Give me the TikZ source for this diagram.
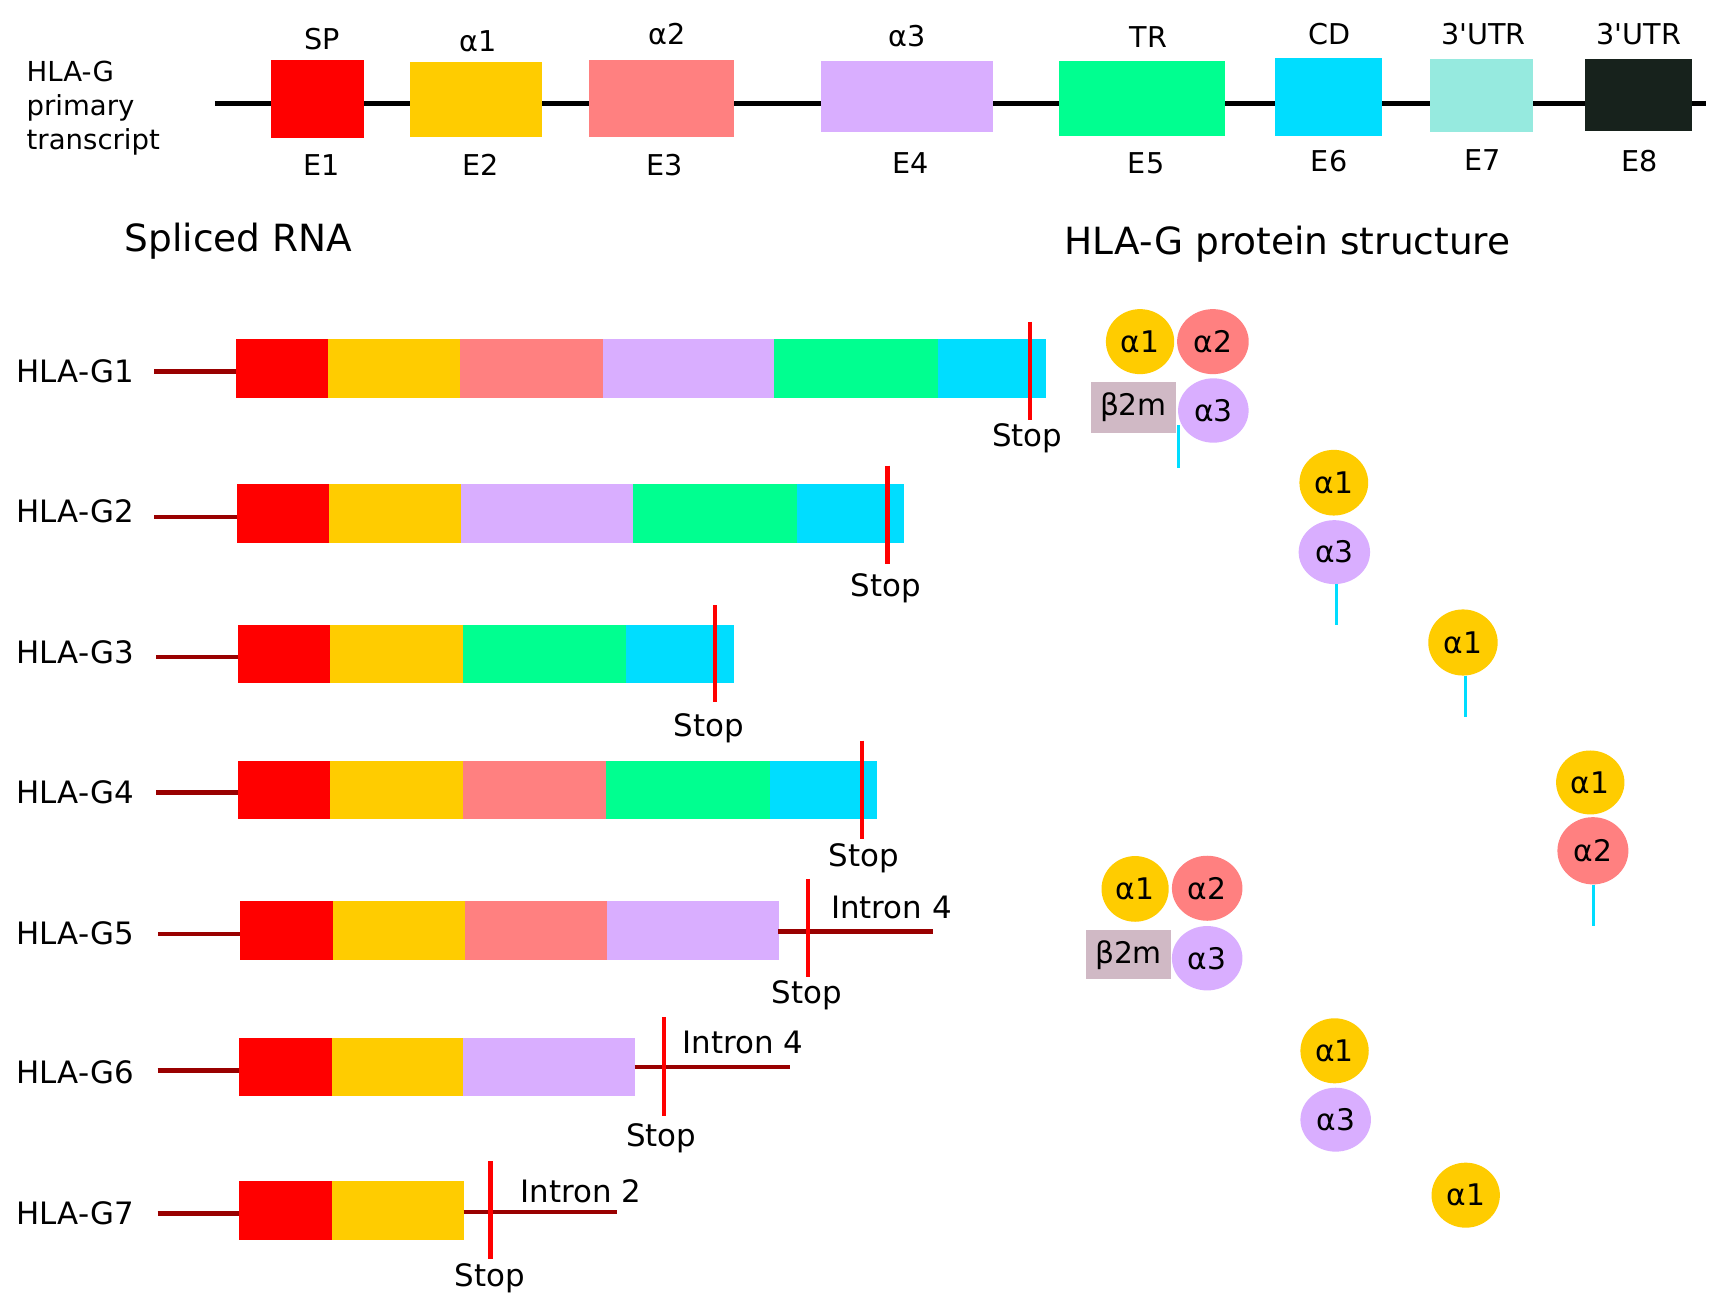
\documentclass[tikz,border=0pt]{standalone}
\usepackage{fontspec}
\setmainfont{DejaVu Sans}
\usetikzlibrary{shapes.geometric}
\definecolor{cRed}{HTML}{FF0000}
\definecolor{cYel}{HTML}{FFCC00}
\definecolor{cSal}{HTML}{FF8080}
\definecolor{cLav}{HTML}{D9AEFF}
\definecolor{cGrn}{HTML}{00FF90}
\definecolor{cCya}{HTML}{00DDFF}
\definecolor{cUtr}{HTML}{96EADF}
\definecolor{cDrk}{HTML}{17221C}
\definecolor{cLead}{HTML}{990000}
\definecolor{cBtm}{HTML}{D0B9C5}
\tikzset{
  segbox/.style={rectangle, inner sep=0pt, outer sep=0pt, line width=0.6pt},
  lbl/.style={inner sep=0pt, font=\fontsize{28}{34}\selectfont},
  toplbl/.style={inner sep=0pt, font=\fontsize{26}{31}\selectfont},
  hdr/.style={inner sep=0pt, font=\fontsize{34}{40}\selectfont},
  dom/.style={ellipse, inner sep=0pt, font=\fontsize{27}{32}\selectfont},
  btm/.style={rectangle, inner sep=0pt, fill=cBtm, font=\fontsize{27}{32}\selectfont},
  leader/.style={line width=4pt, draw=cLead},
  stopline/.style={line width=4pt, draw=cRed},
  stem/.style={line width=3pt, draw=cCya},
  backbone/.style={line width=4pt, draw=black},
}
% name, x1, x2, ytop, ybottom, colour
\newcommand\mkseg[6]{\node[segbox, fill=#6, draw=#6, minimum width={#3-#2}, minimum height={#5-#4}, anchor=north west] (#1) at (#2,#4) {};}
\begin{document}
\begin{tikzpicture}[x=1pt,y=-1pt]
\useasboundingbox[fill=white] (0,0) rectangle (1568,1180);

% ---------- primary transcript ----------
\node[toplbl, align=left, anchor=north west, font=\fontsize{25}{31}\selectfont] (prim) at (24,55) {HLA-G\\primary\\transcript};
\coordinate (bbl) at (195,93.8);
\coordinate (bbr) at (1548,93.8);
\draw[backbone] (bbl) -- (bbr);
\mkseg{e1}{246}{330}{55}{125}{cRed}
\mkseg{e2}{372}{491.5}{56.6}{124}{cYel}
\mkseg{e3}{535}{665.7}{54.5}{124}{cSal}
\mkseg{e4}{745}{900}{56}{119.5}{cLav}
\mkseg{e5}{961}{1110.5}{56}{122.5}{cGrn}
\mkseg{e6}{1157}{1253}{53}{123}{cCya}
\mkseg{e7}{1298}{1390}{53.5}{119.5}{cUtr}
\mkseg{e8}{1438.5}{1535}{53.5}{118}{cDrk}
\node[toplbl, anchor=base] (t1) at (292,45) {SP};
\node[toplbl, anchor=base] (t2) at (434,47) {α1};
\node[toplbl, anchor=base] (t3) at (605,40) {α2};
\node[toplbl, anchor=base] (t4) at (823,42) {α3};
\node[toplbl, anchor=base] (t5) at (1042,43) {TR};
\node[toplbl, anchor=base] (t6) at (1206,40) {CD};
\node[toplbl, anchor=base] (t7) at (1346,40) {3\textquotesingle UTR};
\node[toplbl, anchor=base] (t8) at (1487,40) {3\textquotesingle UTR};
\node[toplbl, anchor=base] (b1) at (292,159) {E1};
\node[toplbl, anchor=base] (b2) at (436,159) {E2};
\node[toplbl, anchor=base] (b3) at (603,159) {E3};
\node[toplbl, anchor=base] (b4) at (826,157) {E4};
\node[toplbl, anchor=base] (b5) at (1040,157) {E5};
\node[toplbl, anchor=base] (b6) at (1206,156) {E6};
\node[toplbl, anchor=base] (b7) at (1345,155) {E7};
\node[toplbl, anchor=base] (b8) at (1488,156) {E8};

% ---------- headers ----------
\node[hdr, anchor=base west] (hsp) at (113,228) {Spliced RNA};
\node[hdr, anchor=base west] (hpr) at (966,231) {HLA-G protein structure};

% ---------- HLA-G1 ----------
\node[lbl, anchor=base west] (n1) at (15,347.3) {HLA-G1};
\coordinate (l1) at (140,337);
\mkseg{g1a}{214}{298}{308}{360.6}{cRed}
\mkseg{g1b}{298}{417.6}{308}{360.6}{cYel}
\mkseg{g1c}{417.6}{547.5}{308}{360.6}{cSal}
\mkseg{g1d}{547.5}{702.8}{308}{360.6}{cLav}
\mkseg{g1e}{702.8}{851.8}{308}{360.6}{cGrn}
\mkseg{g1f}{851.8}{948.6}{308}{360.6}{cCya}
\draw[leader] (l1) -- (l1 -| g1a.west);
\coordinate (s1t) at (934.6,292); \coordinate (s1b) at (934.6,381);
\draw[stopline] (s1t) -- (s1b);
\node[lbl, anchor=base] (st1) at (932,405.3) {Stop};

% ---------- HLA-G2 ----------
\node[lbl, anchor=base west] (n2) at (15,474.5) {HLA-G2};
\coordinate (l2) at (140,469);
\mkseg{g2a}{215.2}{299.2}{439.2}{492}{cRed}
\mkseg{g2b}{299.2}{418.9}{439.2}{492}{cYel}
\mkseg{g2c}{418.9}{574.9}{439.2}{492}{cLav}
\mkseg{g2d}{574.9}{723.2}{439.2}{492}{cGrn}
\mkseg{g2e}{723.2}{819.3}{439.2}{492}{cCya}
\draw[leader] (l2) -- (l2 -| g2a.west);
\coordinate (s2t) at (805.3,422.6); \coordinate (s2b) at (805.3,512);
\draw[stopline] (s2t) -- (s2b);
\node[lbl, anchor=base] (st2) at (804,541) {Stop};

% ---------- HLA-G3 ----------
\node[lbl, anchor=base west] (n3) at (15,602.3) {HLA-G3};
\coordinate (l3) at (142,596);
\mkseg{g3a}{216}{300}{567}{619}{cRed}
\mkseg{g3b}{300}{420}{567}{619}{cYel}
\mkseg{g3c}{420}{568}{567}{619}{cGrn}
\mkseg{g3d}{568}{665}{567}{619}{cCya}
\draw[leader] (l3) -- (l3 -| g3a.west);
\coordinate (s3t) at (649,549); \coordinate (s3b) at (649,637);
\draw[stopline] (s3t) -- (s3b);
\node[lbl, anchor=base] (st3) at (643,668) {Stop};

% ---------- HLA-G4 ----------
\node[lbl, anchor=base west] (n4) at (15,729.3) {HLA-G4};
\coordinate (l4) at (142,719);
\mkseg{g4a}{216}{300}{691}{743}{cRed}
\mkseg{g4b}{300}{420}{691}{743}{cYel}
\mkseg{g4c}{420}{550}{691}{743}{cSal}
\mkseg{g4d}{550}{699}{691}{743}{cGrn}
\mkseg{g4e}{699}{795}{691}{743}{cCya}
\draw[leader] (l4) -- (l4 -| g4a.west);
\coordinate (s4t) at (782,672); \coordinate (s4b) at (782,761);
\draw[stopline] (s4t) -- (s4b);
\node[lbl, anchor=base] (st4) at (784,786) {Stop};

% ---------- HLA-G5 ----------
\node[lbl, anchor=base west] (n5) at (15,857.3) {HLA-G5};
\coordinate (l5) at (143.6,847.5);
\mkseg{g5a}{218.2}{302.1}{818.2}{870.5}{cRed}
\mkseg{g5b}{302.1}{421.9}{818.2}{870.5}{cYel}
\mkseg{g5c}{421.9}{551.5}{818.2}{870.5}{cSal}
\mkseg{g5d}{551.5}{706}{818.2}{870.5}{cLav}
\draw[leader] (l5) -- (l5 -| g5a.west);
\coordinate (i5) at (846.7,845.4);
\draw[leader] (i5 -| g5d.east) -- (i5);
\coordinate (s5t) at (733.2,797.6); \coordinate (s5b) at (733.2,886.9);
\draw[stopline] (s5t) -- (s5b);
\node[lbl, anchor=base] (st5) at (732,911) {Stop};
\node[lbl, anchor=base west] (in5) at (754,833) {Intron 4};

% ---------- HLA-G6 ----------
\node[lbl, anchor=base west] (n6) at (15,983.3) {HLA-G6};
\coordinate (l6) at (143,971.3);
\mkseg{g6a}{217}{301.5}{942.2}{994.3}{cRed}
\mkseg{g6b}{301.5}{420.7}{942.2}{994.3}{cYel}
\mkseg{g6c}{420.7}{575.9}{942.2}{994.3}{cLav}
\draw[leader] (l6) -- (l6 -| g6a.west);
\coordinate (i6) at (716.5,968.2);
\draw[leader] (i6 -| g6c.east) -- (i6);
\coordinate (s6t) at (602.5,923.2); \coordinate (s6b) at (602.5,1012.7);
\draw[stopline] (s6t) -- (s6b);
\node[lbl, anchor=base] (st6) at (600,1040) {Stop};
\node[lbl, anchor=base west] (in6) at (619,956) {Intron 4};

% ---------- HLA-G7 ----------
\node[lbl, anchor=base west] (n7) at (15,1111.3) {HLA-G7};
\coordinate (l7) at (143,1101);
\mkseg{g7a}{217}{301.5}{1072.3}{1124.6}{cRed}
\mkseg{g7b}{301.5}{420.7}{1072.3}{1124.6}{cYel}
\draw[leader] (l7) -- (l7 -| g7a.west);
\coordinate (i7) at (559.6,1099.8);
\draw[leader] (i7 -| g7b.east) -- (i7);
\coordinate (s7t) at (445,1053.6); \coordinate (s7b) at (445,1142.8);
\draw[stopline] (s7t) -- (s7b);
\node[lbl, anchor=base] (st7) at (444.5,1167) {Stop};
\node[lbl, anchor=base west] (in7) at (472,1091) {Intron 2};

% ---------- proteins ----------
% G1
\coordinate (p1t) at (1069.3,385.7); \coordinate (p1b) at (1069.3,424.4);
\draw[stem] (p1t) -- (p1b);
\node[dom, fill=cYel, minimum width=62pt, minimum height=59pt] (p1a1) at (1034.5,310) {α1};
\node[dom, fill=cSal, minimum width=65pt, minimum height=59pt] (p1a2) at (1100.6,310) {α2};
\node[btm, minimum width=77pt, minimum height=45.6pt] (p1bm) at (1028.5,369.8) {β2m};
\node[dom, fill=cLav, minimum width=64pt, minimum height=58.4pt] (p1a3) at (1101,372.5) {α3};
% G2
\node[dom, fill=cYel, minimum width=62.4pt, minimum height=59.6pt] (p2a1) at (1210.3,438) {α1};
\node[dom, fill=cLav, minimum width=64.8pt, minimum height=58pt] (p2a3) at (1210.8,501) {α3};
\coordinate (p2b) at (1212.5,567);
\draw[stem] (p2b |- p2a3.south) -- (p2b);
% G3
\node[dom, fill=cYel, minimum width=63pt, minimum height=60pt] (p3a1) at (1327.5,583) {α1};
\coordinate (p3b) at (1329.5,650.4);
\draw[stem] (p3b |- p3a1.south) -- (p3b);
% G4
\node[dom, fill=cYel, minimum width=62pt, minimum height=58pt] (p4a1) at (1443,710) {α1};
\node[dom, fill=cSal, minimum width=64.4pt, minimum height=61pt] (p4a2) at (1445.4,772) {α2};
\coordinate (p4b) at (1446.2,840);
\draw[stem] (p4b |- p4a2.south) -- (p4b);
% G5
\node[dom, fill=cYel, minimum width=61pt, minimum height=59.6pt] (p5a1) at (1030,806.6) {α1};
\node[dom, fill=cSal, minimum width=64pt, minimum height=59pt] (p5a2) at (1095.4,806) {α2};
\node[btm, minimum width=76.5pt, minimum height=44.7pt] (p5bm) at (1024,866.4) {β2m};
\node[dom, fill=cLav, minimum width=64pt, minimum height=58.4pt] (p5a3) at (1095.4,869.5) {α3};
% G6
\node[dom, fill=cYel, minimum width=62pt, minimum height=59pt] (p6a1) at (1211,953.5) {α1};
\node[dom, fill=cLav, minimum width=64pt, minimum height=58pt] (p6a3) at (1212,1016) {α3};
% G7
\node[dom, fill=cYel, minimum width=62pt, minimum height=59pt] (p7a1) at (1330,1084.5) {α1};
\end{tikzpicture}
\end{document}
